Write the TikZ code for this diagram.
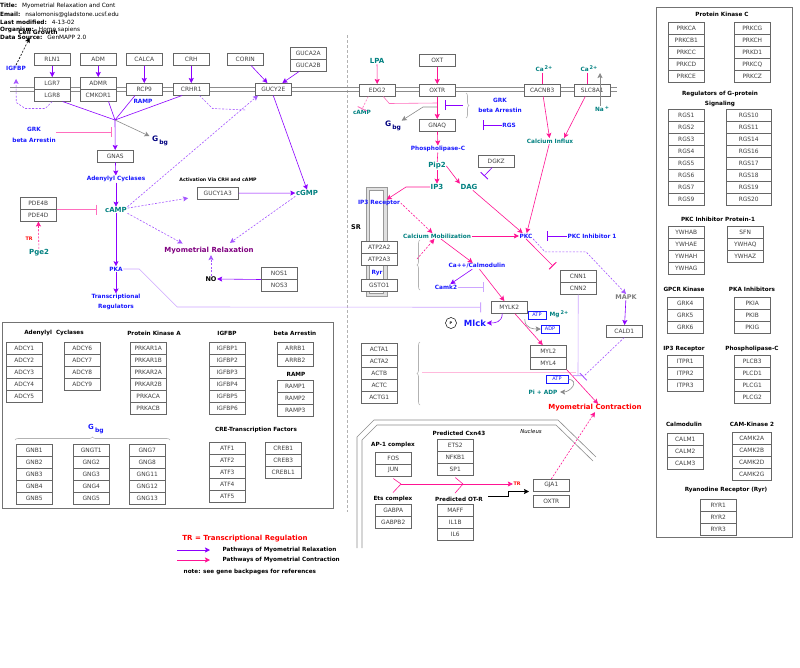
\documentclass[tikz,border=0pt]{standalone}
\usepackage{fontspec}
\setmainfont{DejaVu Sans}
\usepackage{tikz}
\usetikzlibrary{arrows.meta, positioning, calc, decorations.pathreplacing}

\definecolor{relaxc}{RGB}{140,0,255}
\definecolor{relaxl}{RGB}{165,85,255}
\definecolor{relaxp}{RGB}{205,165,255}
\definecolor{contrc}{RGB}{255,20,147}
\definecolor{contrl}{RGB}{255,110,190}
\definecolor{contrp}{RGB}{255,185,220}
\definecolor{labblue}{RGB}{25,25,255}
\definecolor{labteal}{RGB}{0,128,128}
\definecolor{labnavy}{RGB}{0,0,128}
\definecolor{relaxtxt}{RGB}{128,0,128}

% stack of gene boxes: [options]{left x}{top y}{genes}
\newcommand{\genestack}[4][]{%
  \foreach \g [count=\i from 0] in {#4}
    \node[gene, #1, anchor=north west] (\g) at (#2,{#3+12*\i}) {\g};%
}

\begin{document}
\begin{tikzpicture}[x=1pt, y=-1pt,
  gene/.style={rectangle, draw=black!60, fill=white, line width=0.5pt,
               minimum width=36pt, minimum height=12pt, inner sep=0pt,
               font=\fontsize{5.9}{6}\selectfont, text=black!75},
  hdr/.style={anchor=west, inner sep=0pt, font=\fontsize{5.8}{6}\selectfont},
  lbl/.style={inner sep=0.5pt, font=\fontsize{5.8}{7}\selectfont\bfseries},
  headl/.style={lbl, font=\fontsize{5.7}{6.5}\selectfont\bfseries},
  blue lbl/.style={lbl, text=labblue},
  teal lbl/.style={lbl, text=labteal},
  teal big/.style={lbl, text=labteal, font=\fontsize{7}{8}\selectfont\bfseries},
  nrg/.style={draw=labblue, text=labblue, fill=white, inner sep=0pt, line width=0.5pt,
              minimum width=18pt, minimum height=8pt, font=\fontsize{5}{6}\selectfont},
  relax/.style={-{Stealth[length=5pt, width=5pt, inset=1pt]}, relaxc, line width=0.6pt},
  relax dash/.style={relax, relaxl, dash pattern=on 2pt off 1.5pt},
  contr/.style={-{Stealth[length=5pt, width=5pt, inset=1pt]}, contrc, line width=0.6pt},
  contr dash/.style={contr, dash pattern=on 2pt off 1.5pt},
  inhib/.style={-{Bar[width=10pt, line width=0.9pt]}, line width=0.6pt},
  grey arr/.style={-{Stealth[length=5pt, width=5pt, inset=1pt]}, black!45, line width=0.6pt},
  sbrace/.style={decorate, decoration={brace, amplitude=3pt}, black!30, line width=0.6pt}
]
\useasboundingbox (0,0) rectangle (800,667);
\fill[white] (0,0) rectangle (800,667);

% header
\node[hdr] (ttl)  at (0,6)    {\textbf{Title:}\hspace{5pt}Myometrial Relaxation and Cont};
\node[hdr] (eml)  at (0,14.5) {\textbf{Email:}\hspace{5pt}nsalomonis@gladstone.ucsf.edu};
\node[hdr] (lmod) at (0,22)   {\textbf{Last modified:}\hspace{5pt}4-13-02};
\node[hdr] (orgn) at (0,30)   {\textbf{Organism:}\hspace{5pt}Homo sapiens};
\node[hdr] (dsrc) at (0,37.5) {\textbf{Data Source:}\hspace{5pt}GenMAPP 2.0};
\node[lbl, font=\fontsize{6}{7}\selectfont\bfseries] (cgrow) at (38,32) {Cell Growth};

% membrane, divider, SR, nucleus
\draw[black!30, line width=0.6pt, dash pattern=on 3pt off 2pt] (347,35) -- (347,512);
\draw[black!45, line width=0.6pt] (10,87) -- (617,87) (10,91) -- (617,91);
\draw[black!40, fill=black!12, line width=0.5pt] (366,187) rectangle (387,296);
\draw[black!40, fill=white, line width=0.5pt] (369.5,190) rectangle (383.5,293);
\draw[black!45, line width=0.6pt] (357,548) -- (357,437) -- (374,420) -- (558,420) -- (596,457);
\draw[black!45, line width=0.6pt] (362,548) -- (362,440) -- (377,425) -- (556,425) -- (593,461);
\node[lbl, font=\fontsize{5.4}{6}\selectfont\itshape] (nucl) at (531,431) {Nucleus};

% left side: receptors
\node[gene, anchor=north west] (RLN1)  at (34,53)  {RLN1};
\node[gene, anchor=north west] (ADM)   at (80,53)  {ADM};
\node[gene, anchor=north west] (CALCA) at (126,53) {CALCA};
\node[gene, anchor=north west] (CRH)   at (173,53) {CRH};
\node[gene, anchor=north west] (CORIN) at (227,53) {CORIN};
\genestack{290}{47}{GUCA2A,GUCA2B}
\genestack{34}{77}{LGR7,LGR8}
\genestack{80}{77}{ADMR,CMKOR1}
\node[gene, anchor=north west] (RCP9)   at (126,83) {RCP9};
\node[gene, anchor=north west] (CRHR1)  at (173,83) {CRHR1};
\node[gene, anchor=north west] (GUCY2E) at (255,83) {GUCY2E};
\node[gene, anchor=north west] (GNAS)   at (97,150) {GNAS};
\genestack{20}{197}{PDE4B,PDE4D}
\node[gene, anchor=north west, minimum width=41pt] (GUCY1A3) at (197,187) {GUCY1A3};
\genestack{261}{267}{NOS1,NOS3}

\node[blue lbl] (igfbpl) at (16,68) {IGFBP};
\node[blue lbl] (rampl) at (143,101) {RAMP};
\node[blue lbl, align=center, font=\fontsize{5.8}{11}\selectfont\bfseries] (grkba) at (34,135) {GRK\\beta Arrestin};
\node[lbl, text=labnavy, font=\fontsize{7.5}{8}\selectfont\bfseries] (gbg1) at (160,141) {G\,\raisebox{-2.5pt}{\fontsize{6}{6}\selectfont bg}};
\node[blue lbl] (adcyl) at (116,179) {Adenylyl Cyclases};
\node[teal big] (camp1) at (116,210) {cAMP};
\node[lbl, font=\fontsize{4.7}{5}\selectfont\bfseries] (actv) at (218,180) {Activation Via CRH and cAMP};
\node[teal big] (cgmp) at (307,193) {cGMP};
\node[lbl, text=red, font=\fontsize{4.8}{5}\selectfont\bfseries] (tr1) at (29,239) {TR};
\node[teal big] (pge2) at (39,253) {Pge2};
\node[lbl, text=relaxtxt, font=\fontsize{7}{8}\selectfont\bfseries] (myorelax) at (209,251) {Myometrial Relaxation};
\node[lbl, font=\fontsize{6.5}{7}\selectfont\bfseries] (nol) at (211,279) {NO};
\node[blue lbl] (pka) at (116,269) {PKA};
\node[blue lbl, align=center, font=\fontsize{5.8}{10}\selectfont\bfseries] (transreg) at (116,302) {Transcriptional\\Regulators};

% middle: OXTR pathway
\node[gene, anchor=north west] (OXT)    at (419,54)  {OXT};
\node[gene, anchor=north west] (EDG2)   at (359,84)  {EDG2};
\node[gene, anchor=north west] (OXTR)   at (419,84)  {OXTR};
\node[gene, anchor=north west] (CACNB3) at (524,84)  {CACNB3};
\node[gene, anchor=north west] (SLC8A1) at (574,84)  {SLC8A1};
\node[gene, anchor=north west] (GNAQ)   at (419,119) {GNAQ};
\node[gene, anchor=north west] (DGKZ)   at (478,155) {DGKZ};
\genestack{361}{241}{ATP2A2,ATP2A3}
\node[gene, anchor=north west] (GSTO1)  at (361,279) {GSTO1};
\genestack{560}{270}{CNN1,CNN2}
\node[gene, anchor=north west] (MYLK2)  at (491,301) {MYLK2};
\genestack{530}{345}{MYL2,MYL4}
\node[gene, anchor=north west] (CALD1)  at (606,325) {CALD1};
\genestack{361}{343}{ACTA1,ACTA2,ACTB,ACTC,ACTG1}

\node[teal big] (lpa) at (377,61) {LPA};
\node[teal lbl] (camp2) at (362,112) {cAMP};
\node[lbl, text=labnavy, font=\fontsize{7.5}{8}\selectfont\bfseries] (gbg2) at (393,126) {G\,\raisebox{-2.5pt}{\fontsize{6}{6}\selectfont bg}};
\node[blue lbl, align=center, font=\fontsize{5.8}{10}\selectfont\bfseries] (grkba2) at (500,105) {GRK\\beta Arrestin};
\node[blue lbl] (rgsl) at (509,125) {RGS};
\node[teal lbl] (ca1) at (544,69) {Ca\,\raisebox{2pt}{\fontsize{5}{5}\selectfont 2+}};
\node[teal lbl] (ca2) at (589,69) {Ca\,\raisebox{2pt}{\fontsize{5}{5}\selectfont 2+}};
\node[teal lbl] (nal) at (602,109) {Na\,\raisebox{2pt}{\fontsize{5}{5}\selectfont +}};
\node[teal lbl] (cainf) at (550,141) {Calcium Influx};
\node[blue lbl] (plc) at (438,149) {Phospholipase-C};
\node[teal big] (pip2) at (437,166) {Pip2};
\node[teal big] (ip3) at (437,187) {IP3};
\node[teal big] (dag) at (469,187) {DAG};
\node[blue lbl] (ip3r) at (379,203) {IP3 Receptor};
\node[lbl, font=\fontsize{6.5}{7}\selectfont\bfseries] (srl) at (356,227) {SR};
\node[teal lbl] (camob) at (437,236) {Calcium Mobilization};
\node[blue lbl] (pkc) at (526,236) {PKC};
\node[blue lbl] (pkci1) at (592,236) {PKC Inhibitor 1};
\node[blue lbl] (cacalm) at (477,266) {Ca++/Calmodulin};
\node[blue lbl] (ryrl) at (377,273) {Ryr};
\node[blue lbl] (camk2) at (446,287) {Camk2};
\node[lbl, text=black!50, font=\fontsize{6.5}{7}\selectfont\bfseries] (mapk) at (626,297) {MAPK};
\node[draw, circle, inner sep=0pt, minimum size=11pt, line width=0.5pt, font=\fontsize{3.5}{4}\selectfont\bfseries] (phos) at (451,323) {P};
\node[blue lbl, font=\fontsize{8.5}{9}\selectfont\bfseries] (mlck) at (475,323) {Mlck};
\node[nrg] (atp1) at (537,315) {ATP};
\node[teal lbl] (mgl) at (559,314) {Mg\,\raisebox{2pt}{\fontsize{5}{5}\selectfont 2+}};
\node[nrg] (adp1) at (550,329) {ADP};
\node[nrg, minimum width=22pt] (atp2) at (557,379) {ATP};
\node[teal lbl] (piadp) at (543,392) {Pi + ADP};
\node[lbl, text=red, font=\fontsize{7}{8}\selectfont\bfseries] (myocontr) at (595,408) {Myometrial Contraction};

% nucleus
\node[headl] (ap1)   at (393,445) {AP-1 complex};
\node[headl] (cxn43) at (459,433) {Predicted Cxn43};
\node[headl] (etsc)  at (393,499) {Ets complex};
\node[headl] (potr)  at (459,499) {Predicted OT-R};
\genestack{375}{452}{FOS,JUN}
\genestack{437}{439}{ETS2,NFKB1,SP1}
\genestack{375}{504}{GABPA,GABPB2}
\genestack{437}{504}{MAFF,IL1B,IL6}
\node[gene, anchor=north west] (GJA1)  at (533,479) {GJA1};
\node[gene, anchor=north west] (oxtrn) at (533,495) {OXTR};
\node[lbl, text=red, font=\fontsize{4.8}{5}\selectfont\bfseries] (tr2) at (517,484) {TR};

% legend box (left)
\draw[black!55, line width=0.6pt] (2,322) rectangle (333,508);
\node[headl] (hadcy) at (54,333)  {Adenylyl\hspace{4pt}Cyclases};
\node[headl] (hpka)  at (154,333) {Protein Kinase A};
\node[headl] (higf)  at (227,333) {IGFBP};
\node[headl] (harr)  at (295,333) {beta Arrestin};
\node[headl] (hramp) at (296,374) {RAMP};
\node[headl] (hcre)  at (256,430) {CRE-Transcription Factors};
\node[lbl, text=labblue, font=\fontsize{7}{8}\selectfont\bfseries] (gbg3) at (96,429) {G\,\raisebox{-2.5pt}{\fontsize{6}{6}\selectfont bg}};
\draw[sbrace] (15,440) -- (170,440);
\genestack{6}{342}{ADCY1,ADCY2,ADCY3,ADCY4,ADCY5}
\genestack{64}{342}{ADCY6,ADCY7,ADCY8,ADCY9}
\genestack{130}{342}{PRKAR1A,PRKAR1B,PRKAR2A,PRKAR2B,PRKACA,PRKACB}
\genestack{209}{342}{IGFBP1,IGFBP2,IGFBP3,IGFBP4,IGFBP5,IGFBP6}
\genestack{277}{342}{ARRB1,ARRB2}
\genestack{277}{380}{RAMP1,RAMP2,RAMP3}
\genestack{16}{444}{GNB1,GNB2,GNB3,GNB4,GNB5}
\genestack{73}{444}{GNGT1,GNG2,GNG3,GNG4,GNG5}
\genestack{129}{444}{GNG7,GNG8,GNG11,GNG12,GNG13}
\genestack{209}{442}{ATF1,ATF2,ATF3,ATF4,ATF5}
\genestack{265}{442}{CREB1,CREB3,CREBL1}

% legend box (right)
\draw[black!55, line width=0.6pt] (656,7) rectangle (792,537);
\node[headl] (hpkc)  at (722,14)  {Protein Kinase C};
\node[headl] (hrgs)  at (720,94)  {Regulators of G-protein};
\node[headl] (hrgs2) at (720,104) {Signaling};
\node[headl] (hywh)  at (718,219) {PKC Inhibitor Protein-1};
\node[headl] (hgrk)  at (684,289) {GPCR Kinase};
\node[headl] (hpki)  at (752,289) {PKA Inhibitors};
\node[headl] (hip3)  at (684,349) {IP3 Receptor};
\node[headl] (hplc)  at (752,349) {Phospholipase-C};
\node[headl] (hcalm) at (684,424) {Calmodulin};
\node[headl] (hcamk) at (752,424) {CAM-Kinase 2};
\node[headl] (hryr)  at (726,490) {Ryanodine Receptor (Ryr)};
\genestack{668}{22}{PRKCA,PRKCB1,PRKCC,PRKCD,PRKCE}
\genestack{734}{22}{PRKCG,PRKCH,PRKD1,PRKCQ,PRKCZ}
\genestack{668}{109}{RGS1,RGS2,RGS3,RGS4,RGS5,RGS6,RGS7,RGS9}
\genestack[minimum width=45pt]{726}{109}{RGS10,RGS11,RGS14,RGS16,RGS17,RGS18,RGS19,RGS20}
\genestack{668}{226}{YWHAB,YWHAE,YWHAH,YWHAG}
\genestack{727}{226}{SFN,YWHAQ,YWHAZ}
\genestack{667}{297}{GRK4,GRK5,GRK6}
\genestack{734}{297}{PKIA,PKIB,PKIG}
\genestack{667}{355}{ITPR1,ITPR2,ITPR3}
\genestack{734}{355}{PLCB3,PLCD1,PLCG1,PLCG2}
\genestack{667}{433}{CALM1,CALM2,CALM3}
\genestack[minimum width=39pt]{732}{432}{CAMK2A,CAMK2B,CAMK2D,CAMK2G}
\genestack{700}{499}{RYR1,RYR2,RYR3}

% key
\node[lbl, text=red, font=\fontsize{7}{8}\selectfont\bfseries] (trkey) at (245,539) {TR = Transcriptional Regulation};
\node[headl, anchor=west] (leg1) at (222,550) {Pathways of Myometrial Relaxation};
\node[headl, anchor=west] (leg2) at (222,560) {Pathways of Myometrial Contraction};
\node[headl, anchor=west] (note) at (183,572) {note: see gene backpages for references};

% coordinates for free ends
\coordinate (gsx)    at (115,120);
\coordinate (gsinh)  at (112,132);
\coordinate (crhj)   at (246,110);
\coordinate (oxj)    at (437,103);
\coordinate (gqj)    at (437,107);
\coordinate (grkinh) at (445,105);
\coordinate (grkb)   at (463,105);
\coordinate (rgsinh) at (483,125);
\coordinate (dgkinh) at (484,176);
\coordinate (pkcinh) at (547,236);
\coordinate (naout)  at (600,73);
\coordinate (camkin) at (484,287);
\coordinate (srj)    at (417,259);
\coordinate (actj)   at (422,372);
\coordinate (actm)   at (576,372);
\coordinate (cnnin)  at (578,376);
\coordinate (caldin) at (583,377);
\coordinate (ap1m)   at (401,484);
\coordinate (cxm)    at (463,484);
\coordinate (prom)   at (488,496);

% left pathway
\draw[relax] (RLN1) -- (LGR7);
\draw[relax] (ADM) -- (ADMR);
\draw[relax] (CALCA) -- (RCP9);
\draw[relax] (CRH) -- (CRHR1);
\draw[relax] (CORIN) -- (GUCY2E);
\draw[relax] (GUCA2B) -- (GUCY2E);
\draw[relaxc, line width=0.6pt] ([xshift=-8pt]LGR8.south east) -- (gsx);
\draw[relaxc, line width=0.6pt] ([xshift=-8pt]CMKOR1.south east) -- (gsx);
\draw[relaxc, line width=0.6pt] ([xshift=9pt]RCP9.south west) -- (gsx);
\draw[relaxc, line width=0.6pt] ([xshift=9pt]CRHR1.south west) -- (gsx);
\draw[relax dash, shorten >=8pt] (LGR8.south) -- ++(-7,7) -- ++(-20,0) -- ++(-9,-6) -- (igfbpl.south);
\draw[black, line width=0.6pt, dash pattern=on 2pt off 1.5pt, -{Stealth[length=5pt, width=5pt, inset=1pt]}, shorten >=3pt] (igfbpl.north) -- ([xshift=-7pt]cgrow.south);
\draw[relax] (gsx) -- (GNAS);
\draw[grey arr, shorten >=2pt] (gsx) -- (gbg1);
\draw[inhib, contrl] (grkba.east |- gsinh) -- (gsinh);
\draw[relax] (GNAS) -- (adcyl);
\draw[relax] (adcyl) -- (camp1);
\draw[inhib, contrl] (PDE4B.south east) -- ([xshift=-8pt]camp1.west |- PDE4B.south east);
\draw[contr dash] (pge2) -- (PDE4D);
\draw[relax dash, shorten >=9pt] (camp1) -- (GUCY1A3);
\draw[relax] (GUCY1A3) -- (cgmp);
\draw[relax] (GUCY2E.south) -- (cgmp.north);
\draw[relax dash] (camp1.north east) -- ([xshift=3pt]GUCY2E.south west);
\draw[relax dash, -] ([xshift=-10pt]CRHR1.south east) -- ++(13,13) -- (crhj);
\draw[relax dash, shorten >=7pt] (camp1.south east) -- ([xshift=25pt]myorelax.north west);
\draw[relax dash, shorten >=7pt] (cgmp.south west) -- ([xshift=-30pt]myorelax.north east);
\draw[relax dash] (nol.north) -- (nol.north |- myorelax.south);
\draw[relax] (NOS1.south west) -- (nol.east);
\draw[relax] (camp1) -- (pka);
\draw[relax] (pka) -- (transreg);
\draw[inhib, relaxp] (pka.east) -- ++(16,0) -- ++(38,38) -- ([xshift=-10pt]MYLK2.west);

% middle pathway
\draw[contr] (lpa) -- (EDG2);
\draw[contr] (OXT) -- (OXTR);
\draw[inhib, contrl, dash pattern=on 2pt off 1.5pt] ([xshift=-9pt]EDG2.south) -- (camp2.north);
\draw[contrl, line width=0.6pt] ([xshift=6pt]EDG2.south) -- ++(6,7) -- (oxj);
\draw[contr] (OXTR) -- (GNAQ);
\draw[grey arr] (gqj) -- ++(-14,0) -- (gbg2.north east);
\draw[inhib, relaxc] (grkb) -- (grkinh);
\draw[sbrace] (466,93) -- (466,118);
\draw[inhib, relaxc] (rgsl.west) -- (rgsinh);
\draw[contr] (GNAQ) -- (plc);
\draw[contrc, line width=0.6pt] (plc) -- (pip2);
\draw[contr] (pip2) -- (ip3);
\draw[contr] (pip2.east) -- (dag.north west);
\draw[inhib, relaxc] ([xshift=-4pt]DGKZ.south) -- (dgkinh);
\draw[contrc, line width=0.6pt] (ca1.south -| CACNB3.north) -- (CACNB3.north);
\draw[contrc, line width=0.6pt] ([xshift=-5pt]SLC8A1.north |- ca2.south) -- ([xshift=-5pt]SLC8A1.north);
\draw[grey arr] ([xshift=-2pt]nal.north) -- (naout);
\draw[contr] (CACNB3) -- (cainf);
\draw[contr] ([xshift=-7pt]SLC8A1.south) -- ([xshift=14pt]cainf.north);
\draw[contr] (cainf) -- (pkc);
\draw[contr] (dag) -- (pkc);
\draw[contr] (ip3.west) -- ++(-24,0) -- ([xshift=-14pt]ip3r.north east);
\draw[contr dash] (ip3r.east) -- ([xshift=30pt]camob.north west);
\draw[sbrace] (420,290) -- (420,240);
\draw[contr dash] (srj) -- (camob);
\draw[contr] (camob) -- (pkc);
\draw[inhib, relaxc] (pkci1.west) -- (pkcinh);
\draw[inhib, contrc] (pkc.south) -- ([shift={(-7pt,4pt)}]CNN1.north west);
\draw[relax dash] (pkc.south east) -- ++(12,13) -- ++(41,0) -- (mapk.north);
\draw[contr] (camob) -- (cacalm);
\draw[relax] (cacalm) -- (camk2);
\draw[inhib, relaxp] (camk2.east) -- (camkin);
\draw[contr] (cacalm) -- (MYLK2);
\draw[relax] ([xshift=-7pt]MYLK2.south) .. controls +(0,9) and +(8,0) .. (mlck.east);
\draw[grey arr] ([xshift=-3pt]atp1.south west) .. controls +(0,10) and +(-6,0) .. (adp1.west);
\draw[contr] (MYLK2) -- (MYL2);
\draw[relax] (mapk) -- (CALD1);
\draw[sbrace] (420,405) -- (420,342);
\draw[contrp, line width=0.6pt] (actj) -- (actm);
\draw[inhib, relaxp] (CNN2.south) -- (cnnin);
\draw[inhib, relaxl, dash pattern=on 2pt off 1.5pt] (CALD1.south) -- (caldin);
\draw[grey arr] (atp2.east) .. controls +(12,2) and +(10,0) .. ([xshift=2pt]piadp.east);
\draw[contr] (MYL4.south east) -- ([xshift=3pt]myocontr.north);
\draw[contr dash] (GJA1.north) -- (myocontr.south);

% nucleus
\draw[contrc, line width=0.6pt] ([yshift=-2pt]JUN.south) -- (ap1m);
\draw[contrc, line width=0.6pt] ([yshift=3pt]etsc.north) -- (ap1m);
\draw[contrc, line width=0.6pt] ([yshift=-2pt]SP1.south) -- (cxm);
\draw[contrc, line width=0.6pt] ([xshift=-4pt, yshift=3pt]potr.north) -- (cxm);
\draw[contr] (ap1m) -- (tr2.west);
\draw[black, line width=0.5pt, -{Stealth[length=5pt, width=5pt, inset=1pt]}] (prom) -- ++(20,0) |- ([xshift=-4pt]GJA1.south west);

% key arrows
\draw[relax] ([xshift=-45pt]leg1.west) -- ([xshift=-12pt]leg1.west);
\draw[contr] ([xshift=-45pt]leg2.west) -- ([xshift=-12pt]leg2.west);
\end{tikzpicture}
\end{document}
